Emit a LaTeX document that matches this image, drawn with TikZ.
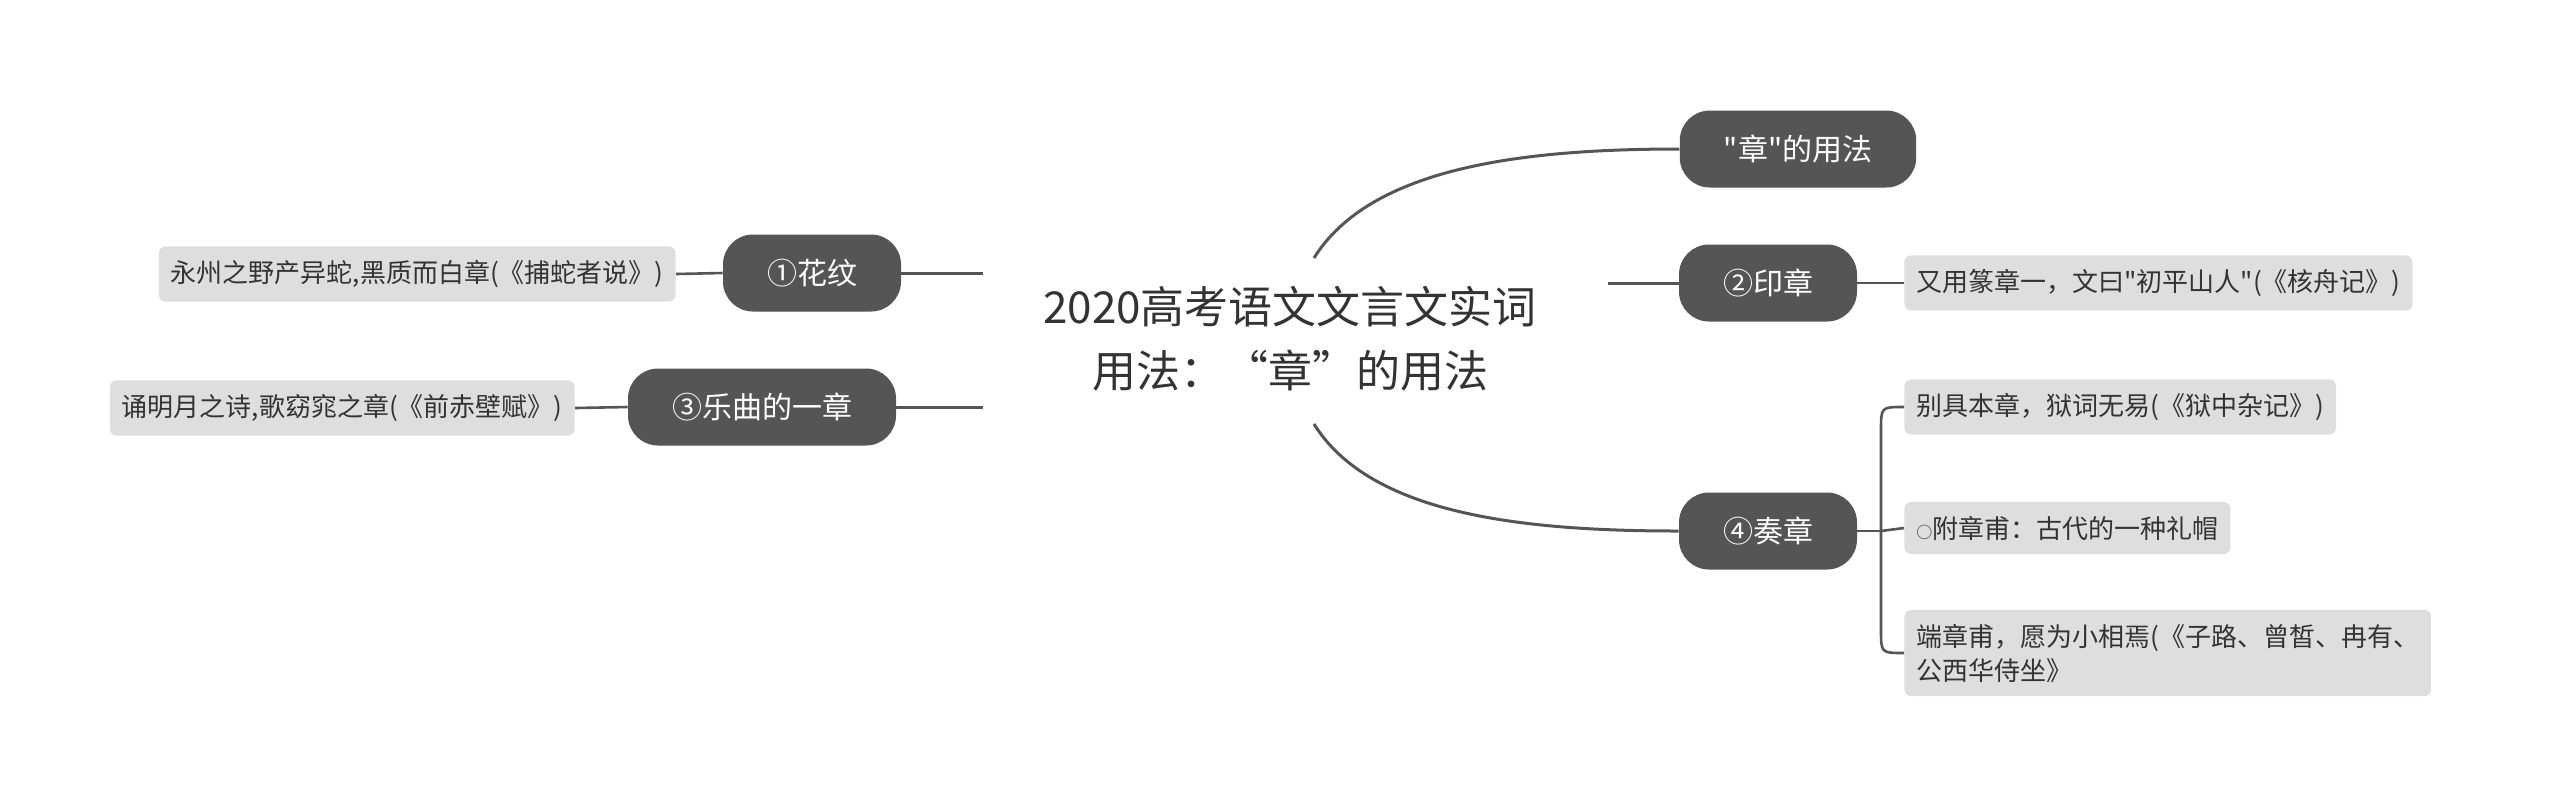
\documentclass[tikz,border=0pt]{standalone}
\usepackage{fontspec}
\setmainfont{Noto Sans CJK SC}[Ligatures=TeXOff]
\definecolor{nodegray}{HTML}{555555}
\definecolor{leafgray}{HTML}{DEDEDE}
\definecolor{textdark}{HTML}{333333}
\definecolor{linegray}{HTML}{555555}
\begin{document}
\begin{tikzpicture}[x=0.5pt,y=-0.5pt,
  topic/.style={fill=nodegray, text=white, rounded corners=15pt, minimum height=38.5pt,
    inner xsep=22pt, inner ysep=0pt, font=\fontsize{15}{18}\selectfont},
  leaf/.style={fill=leafgray, text=textdark, rounded corners=3.5pt, inner xsep=6pt,
    inner ysep=7pt, font=\fontsize{13}{17}\selectfont, align=left},
  conn/.style={draw=linegray, line width=1.5pt},
  lconn/.style={draw=linegray, line width=1.3pt}]
\useasboundingbox (0,0) rectangle (2560,811);
\node[font=\fontsize{22}{32}\selectfont, align=center, text=textdark] (c) at (1290,339)
  {2020高考语文文言文实词\\用法：“章”的用法};
% first level
\node[topic] (t0) at (1798,149) {"章"的用法};
\node[topic] (t2) at (1768,283) {②印章};
\node[topic] (t4) at (1768,531) {④奏章};
\node[topic] (t1) at (812,273) {①花纹};
\node[topic] (t3) at (762,407) {③乐曲的一章};
% leaves
\node[leaf, anchor=east] (l1) at (676,274) {永州之野产异蛇,黑质而白章(《捕蛇者说》)};
\node[leaf, anchor=east] (l3) at (575,408) {诵明月之诗,歌窈窕之章(《前赤壁赋》)};
\node[leaf, anchor=west] (l2) at (1904,283) {又用篆章一，文曰"初平山人"(《核舟记》)};
\node[leaf, anchor=west] (l41) at (1904,407) {别具本章，狱词无易(《狱中杂记》)};
\node[leaf, anchor=west] (l42) at (1904,528) {{\fontsize{8}{8}\selectfont ○}附章甫：古代的一种礼帽};
\node[leaf, anchor=west] (l43) at (1904,653) {端章甫，愿为小相焉(《子路、曾皙、冉有、\\公西华侍坐》};
% stubs
\coordinate (ct) at (1314,258);
\coordinate (cb) at (1314,424);
\coordinate (s2) at (1608,283);
\coordinate (s1) at (983,273);
\coordinate (s3) at (983,407);
\coordinate (j4) at (1881,531);
% main connectors
\draw[conn] (ct) .. controls (1370,168) and (1520,149) .. (t0.west);
\draw[conn] (cb) .. controls (1370,514) and (1520,531) .. (t4.west);
\draw[conn] (s2) -- (t2.west);
\draw[conn] (s1) -- (t1.east);
\draw[conn] (s3) -- (t3.east);
% leaf connectors
\draw[lconn] (t1.west) -- (l1.east);
\draw[lconn] (t3.west) -- (l3.east);
\draw[lconn] (t2.east) -- (l2.west);
\draw[lconn] (t4.east) -- (j4);
\draw[lconn] (j4) -- (l42.west);
\draw[lconn] (j4) -- (1881,430) .. controls (1881,407) .. (l41.west);
\draw[lconn] (j4) -- (1881,630) .. controls (1881,653) .. (l43.west);
\end{tikzpicture}
\end{document}
